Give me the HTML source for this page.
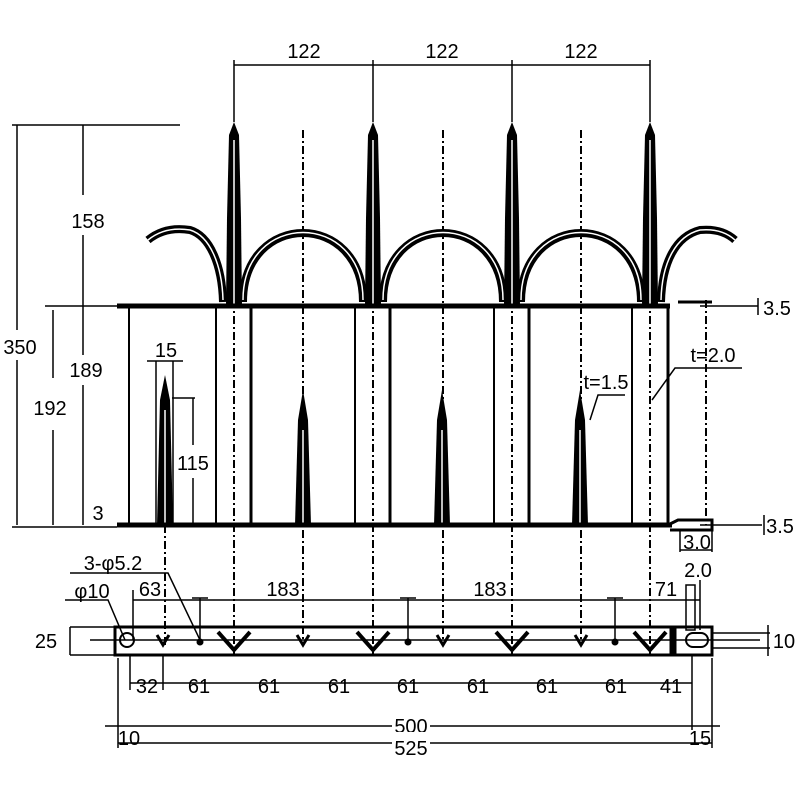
<!DOCTYPE html>
<html><head><style>body{margin:0;background:#fff}svg{display:block}text{font-family:"Liberation Sans",sans-serif;font-size:20px;fill:#000}</style></head><body>
<svg width="800" height="800" viewBox="0 0 800 800" xmlns="http://www.w3.org/2000/svg">
<g stroke="#000" fill="none">
<g stroke-width="2" stroke-dasharray="8,3,2,3">
<line x1="303" y1="130" x2="303" y2="645"/><line x1="443" y1="130" x2="443" y2="645"/><line x1="581" y1="130" x2="581" y2="645"/>
<line x1="234" y1="300" x2="234" y2="655"/><line x1="373" y1="300" x2="373" y2="655"/><line x1="512" y1="300" x2="512" y2="655"/><line x1="650" y1="300" x2="650" y2="655"/>
<line x1="165" y1="525" x2="165" y2="645"/><line x1="706" y1="300" x2="706" y2="525"/>
</g>
<g stroke-width="8">
<path d="M243,302 C243,210 363,210 363,302"/><path d="M383,302 C383,210 503,210 503,302"/><path d="M521,302 C521,210 641,210 641,302"/>
<path d="M148,240 Q165,226 190,230 C210,236 222,265 223,302"/><path d="M661,302 C662,262 676,236 700,230 Q722,228 735,240"/>
</g>
<g stroke="#fff" stroke-width="1.5">
<path d="M243,300 C243,210 363,210 363,300"/><path d="M383,300 C383,210 503,210 503,300"/><path d="M521,300 C521,210 641,210 641,300"/>
<path d="M148,240 Q165,226 190,230 C210,236 222,265 223,300"/><path d="M661,300 C662,262 676,236 700,230 Q722,228 735,240"/>
</g>
<g fill="#000" stroke="none">
<polygon points="226,306 227,218 229,135 234,122 239,135 241,218 242,306"/>
<polygon points="365,306 366,218 368,135 373,122 378,135 380,218 381,306"/>
<polygon points="504,306 505,218 507,135 512,122 517,135 519,218 520,306"/>
<polygon points="642,306 643,218 645,135 650,122 655,135 657,218 658,306"/>
<polygon points="157,525 160,400 165,375 170,400 173,525"/>
<polygon points="295,525 298,420 303,390 308,420 311,525"/>
<polygon points="434,525 437,420 442,390 447,420 450,525"/>
<polygon points="572,525 575,420 580,390 585,420 588,525"/>
</g>
<g stroke="#fff" stroke-width="1.5">
<line x1="234" y1="140" x2="234" y2="306"/><line x1="373" y1="140" x2="373" y2="306"/><line x1="512" y1="140" x2="512" y2="306"/><line x1="650" y1="140" x2="650" y2="306"/>
<line x1="165" y1="410" x2="165" y2="525"/><line x1="303" y1="430" x2="303" y2="525"/><line x1="442" y1="430" x2="442" y2="525"/><line x1="580" y1="430" x2="580" y2="525"/>
</g>
<line x1="117" y1="306" x2="670" y2="306" stroke-width="5"/>
<line x1="117" y1="525" x2="672" y2="525" stroke-width="5"/>
<path d="M668,525 L678,520 L712,520 L712,530 L670,530" stroke-width="3"/>
<line x1="678" y1="302" x2="712" y2="302" stroke-width="3"/>
<g stroke-width="2"><line x1="129" y1="306" x2="129" y2="525"/><line x1="216" y1="306" x2="216" y2="525"/><line x1="355" y1="306" x2="355" y2="525"/><line x1="494" y1="306" x2="494" y2="525"/><line x1="632" y1="306" x2="632" y2="525"/></g>
<g stroke-width="3"><line x1="251" y1="306" x2="251" y2="525"/><line x1="390" y1="306" x2="390" y2="525"/><line x1="529" y1="306" x2="529" y2="525"/><line x1="668" y1="306" x2="668" y2="525"/></g>
<g stroke-width="1.5">
<line x1="234" y1="65" x2="650" y2="65"/><line x1="234" y1="60" x2="234" y2="122"/><line x1="373" y1="60" x2="373" y2="122"/><line x1="512" y1="60" x2="512" y2="122"/><line x1="650" y1="60" x2="650" y2="122"/>
<line x1="12" y1="125" x2="180" y2="125"/><line x1="17" y1="125" x2="17" y2="330"/><line x1="17" y1="360" x2="17" y2="525"/>
<line x1="83" y1="125" x2="83" y2="195"/><line x1="83" y1="235" x2="83" y2="355"/><line x1="83" y1="385" x2="83" y2="525"/>
<line x1="45" y1="306" x2="117" y2="306"/><line x1="53" y1="310" x2="53" y2="378"/><line x1="53" y1="430" x2="53" y2="525"/>
<line x1="12" y1="527" x2="117" y2="527"/>
<line x1="147" y1="361" x2="183" y2="361"/><line x1="156" y1="361" x2="156" y2="525"/><line x1="173" y1="361" x2="173" y2="525"/>
<line x1="172" y1="398" x2="195" y2="398"/><line x1="193" y1="398" x2="193" y2="445"/><line x1="193" y1="478" x2="193" y2="525"/>
<line x1="700" y1="306" x2="758" y2="306"/><line x1="700" y1="525" x2="762" y2="525"/><line x1="758" y1="298" x2="758" y2="315"/><line x1="764" y1="515" x2="764" y2="535"/>
<polyline points="652,400 675,368 742,368"/><polyline points="590,420 598,395 625,395"/>
<line x1="680" y1="530" x2="680" y2="552"/><line x1="712" y1="530" x2="712" y2="552"/><line x1="680" y1="550" x2="712" y2="550"/>
</g>
<rect x="115" y="627" width="597" height="28" stroke-width="3"/>
<line x1="90" y1="640" x2="760" y2="640" stroke-width="1.5"/>
<line x1="70" y1="627" x2="115" y2="627" stroke-width="1.5"/><line x1="70" y1="655" x2="115" y2="655" stroke-width="1.5"/><line x1="70" y1="627" x2="70" y2="655" stroke-width="1.5"/>
<line x1="712" y1="633" x2="770" y2="633" stroke-width="1.5"/><line x1="712" y1="648" x2="770" y2="648" stroke-width="1.5"/><line x1="768" y1="625" x2="768" y2="656" stroke-width="1.5"/>
<circle cx="127" cy="640" r="7" stroke-width="2"/>
<rect x="686" y="633" width="22" height="14" rx="7" stroke-width="2"/>
<rect x="670" y="628" width="6" height="26" fill="#000"/>
<g stroke-width="4"><polyline points="218,632 234,650 250,632"/><polyline points="357,632 373,650 389,632"/><polyline points="496,632 512,650 528,632"/><polyline points="634,632 650,650 666,632"/></g>
<g stroke-width="3"><polyline points="157,635 163,645 169,635"/><polyline points="297,635 303,645 309,635"/><polyline points="437,635 443,645 449,635"/><polyline points="575,635 581,645 587,635"/></g>
<g fill="#000"><circle cx="200" cy="642" r="3"/><circle cx="408" cy="642" r="3"/><circle cx="615" cy="642" r="3"/></g>
<g stroke-width="1.5">
<line x1="133" y1="600" x2="700" y2="600"/><line x1="133" y1="590" x2="133" y2="640"/>
<line x1="192" y1="598" x2="208" y2="598"/><line x1="200" y1="598" x2="200" y2="640"/>
<line x1="400" y1="598" x2="416" y2="598"/><line x1="408" y1="598" x2="408" y2="640"/>
<line x1="607" y1="598" x2="623" y2="598"/><line x1="615" y1="598" x2="615" y2="640"/>
<rect x="686" y="585" width="9" height="45"/><line x1="700" y1="580" x2="700" y2="630"/>
<polyline points="70,573 168,573 200,640"/><polyline points="65,600 108,600 125,640"/>
<line x1="130" y1="683" x2="692" y2="683"/>
<line x1="130" y1="655" x2="130" y2="690"/><line x1="163" y1="655" x2="163" y2="690"/><line x1="692" y1="655" x2="692" y2="730"/>
<line x1="105" y1="726" x2="720" y2="726"/><line x1="118" y1="658" x2="118" y2="748"/><line x1="712" y1="658" x2="712" y2="748"/>
<line x1="118" y1="743" x2="712" y2="743"/>
</g>
</g>
<g text-anchor="middle">
<text x="304" y="58">122</text><text x="442" y="58">122</text><text x="581" y="58">122</text>
<text x="88" y="228">158</text><text x="20" y="354">350</text><text x="86" y="377">189</text><text x="50" y="415">192</text>
<text x="98" y="520">3</text><text x="166" y="357">15</text><text x="193" y="470">115</text>
<text x="777" y="315">3.5</text><text x="780" y="533">3.5</text><text x="713" y="362">t=2.0</text>
<text x="606" y="389" font-size="15">t=1.5</text><text x="697" y="549" font-size="15">3.0</text><text x="698" y="577" font-size="15">2.0</text>
<text x="113" y="570">3-φ5.2</text><text x="92" y="598">φ10</text>
<text x="150" y="596">63</text><text x="283" y="596">183</text><text x="490" y="596">183</text><text x="666" y="596">71</text>
<text x="46" y="648">25</text><text x="784" y="648">10</text>
<text x="147" y="693">32</text><text x="199" y="693">61</text><text x="269" y="693">61</text><text x="339" y="693">61</text><text x="408" y="693">61</text><text x="478" y="693">61</text><text x="547" y="693">61</text><text x="616" y="693">61</text><text x="671" y="693">41</text>
<rect x="392" y="714" width="38" height="22" fill="#fff"/><text x="411" y="733">500</text>
<rect x="392" y="732" width="38" height="22" fill="#fff"/><text x="411" y="755">525</text>
<text x="129" y="745" font-size="15">10</text><text x="700" y="745" font-size="15">15</text>
</g>
</svg>
</body></html>
